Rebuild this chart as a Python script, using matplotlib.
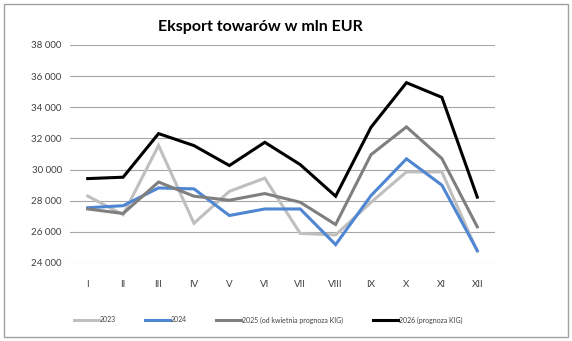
import matplotlib.pyplot as plt
from matplotlib.patches import Rectangle

months = ['I', 'II', 'III', 'IV', 'V', 'VI', 'VII', 'VIII', 'IX', 'X', 'XI', 'XII']

y2023 = [28300, 27100, 31550, 26550, 28600, 29450, 25900, 25800, 27900, 29850, 29850, 24750]
y2024 = [27550, 27680, 28820, 28760, 27050, 27470, 27470, 25180, 28330, 30690, 29000, 24800]
y2025 = [27470, 27180, 29200, 28290, 28030, 28460, 27900, 26470, 30960, 32740, 30710, 26320]
y2026 = [29420, 29510, 32310, 31540, 30260, 31750, 30320, 28290, 32720, 35580, 34640, 28230]

labels = ['2023', '2024', '2025 (od kwietnia prognoza KIG)', '2026 (prognoza KIG)']
colors = ['#BFBFBF', '#4F86D2', '#7F7F7F', '#000000']

plt.rcParams['font.family'] = ['Lato', 'DejaVu Sans']

fig = plt.figure(figsize=(5.72, 3.41), dpi=100)
ax = fig.add_axes([70/572, 1-263/341, 425/572, 218/341])

x = range(len(months))
for ys, lab, c in zip([y2023, y2024, y2025, y2026], labels, colors):
    ax.plot(x, ys, color=c, lw=2.2, label=lab, solid_joinstyle='miter')

ax.set_xlim(-0.5, 11.5)
ax.set_ylim(24000, 38000)
ax.set_yticks(range(24000, 38001, 2000))
ax.set_yticklabels([f"{v:,}".replace(",", " ") for v in range(24000, 38001, 2000)])
ax.set_xticks(list(x))
ax.set_xticklabels(months)
ax.grid(axis='y', color='#A6A6A6', lw=0.8)
ax.set_axisbelow(True)
for s in ax.spines.values():
    s.set_visible(False)
ax.tick_params(length=0, labelsize=7, colors='#404040', pad=6)
ax.tick_params(axis='x', pad=12)

fig.text(260/572, 1-27/341, 'Eksport towarów w mln EUR', ha='center', va='center',
         fontsize=11.5, fontweight='bold')

fig.legend(loc='center', bbox_to_anchor=(268/572, 1-320/341), ncol=4, frameon=False,
           fontsize=5, handlelength=3.6, columnspacing=4.2, handletextpad=0.15,
           labelcolor='#404040')

fig.patches.append(Rectangle((4/572, 4/341), 564/572, 333/341, transform=fig.transFigure,
                             fill=False, edgecolor='#A0A0A0', lw=1))

fig.savefig('out.png', dpi=100)
